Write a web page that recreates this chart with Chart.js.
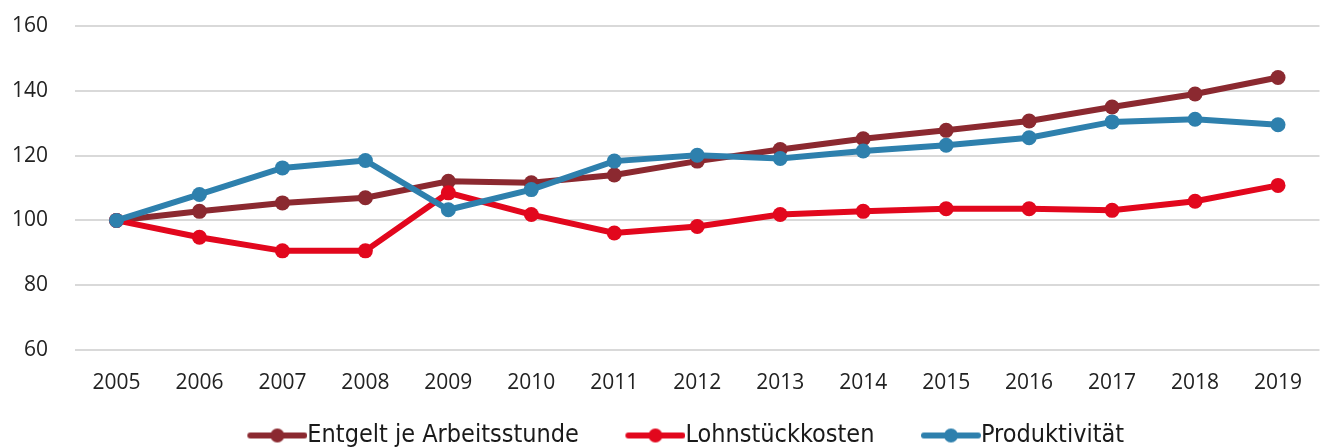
<!DOCTYPE html>
<html>
<head>
<meta charset="utf-8">
<script src="https://cdn.jsdelivr.net/npm/chart.js@4"></script>
<style>
  html, body { margin: 0; padding: 0; background: #fff; }
  #wrap { width: 1327px; height: 447px; }
</style>
</head>
<body>
<div id="wrap"><canvas id="chart"></canvas></div>
<script>
const years = ['2005', '2006', '2007', '2008', '2009', '2010', '2011', '2012', '2013', '2014', '2015', '2016', '2017', '2018', '2019'];
const entgelt = [100, 102.8, 105.4, 107.0, 112.1, 111.6, 114.0, 118.3, 121.9, 125.2, 127.8, 130.7, 135.0, 139.0, 144.1];
const lohnstueck = [100, 94.8, 90.6, 90.6, 108.5, 101.8, 96.1, 98.1, 101.8, 102.8, 103.6, 103.6, 103.1, 105.9, 110.8];
const produktivitaet = [100, 108.0, 116.2, 118.5, 103.3, 109.5, 118.3, 120.1, 119.1, 121.4, 123.2, 125.5, 130.4, 131.2, 129.5];
const seriesNames = ['Entgelt je Arbeitsstunde', 'Lohnstückkosten', 'Produktivität'];
const seriesColors = ['#8b2930', '#e2071d', '#2e80ad'];

const legendFontSize = 25;
const markerGap = 59;

// legend marker: line with a dot, plus transparent space on the left
function legendMarker(color) {
    const c = document.createElement('canvas');
    c.width = 60 + markerGap;
    c.height = 16;
    const g = c.getContext('2d');
    g.strokeStyle = color;
    g.lineWidth = 6;
    g.lineCap = 'round';
    g.beginPath();
    g.moveTo(markerGap + 3, 8);
    g.lineTo(markerGap + 57, 8);
    g.stroke();
    g.fillStyle = color;
    g.beginPath();
    g.arc(markerGap + 30, 8, 7, 0, Math.PI * 2);
    g.fill();
    return c;
}

function makeDataset(label, data, color, order) {
    return {
        label: label,
        data: data,
        borderColor: color,
        backgroundColor: color,
        borderWidth: 6,
        pointRadius: 7.5,
        pointHoverRadius: 7.5,
        pointBorderWidth: 0,
        tension: 0,
        order: order
    };
}

new Chart(document.getElementById('chart'), {
    type: 'line',
    data: {
        labels: years,
        datasets: [
            makeDataset(seriesNames[0], entgelt, seriesColors[0], 2),
            makeDataset(seriesNames[1], lohnstueck, seriesColors[1], 1),
            makeDataset(seriesNames[2], produktivitaet, seriesColors[2], 0)
        ]
    },
    options: {
        responsive: true,
        maintainAspectRatio: false,
        animation: false,
        layout: {
            padding: { top: 26, right: 2, bottom: -11, left: 0 }
        },
        plugins: {
            tooltip: { enabled: false },
            legend: {
                display: true,
                position: 'bottom',
                labels: {
                    usePointStyle: true,
                    pointStyleWidth: 60 + markerGap - legendFontSize,
                    padding: 0,
                    color: '#1a1a1a',
                    font: { family: "'Liberation Sans Narrow', 'DejaVu Sans Condensed', sans-serif", size: legendFontSize },
                    generateLabels: chart => chart.data.datasets.map((ds, i) => ({
                        text: ds.label,
                        pointStyle: legendMarker(ds.borderColor),
                        fillStyle: ds.borderColor,
                        strokeStyle: ds.borderColor,
                        lineWidth: 0,
                        hidden: false,
                        datasetIndex: i,
                        fontColor: '#1a1a1a'
                    }))
                }
            }
        },
        scales: {
            x: {
                offset: true,
                grid: { display: false, drawTicks: false },
                border: { display: false },
                ticks: {
                    padding: 20,
                    color: '#222',
                    font: { family: "'Open Sans', sans-serif", size: 21 }
                },
                afterFit: scale => { scale.height = 73; }
            },
            y: {
                min: 60,
                max: 160,
                grid: { color: '#d9d9d9', lineWidth: 2, drawTicks: false },
                border: { display: false },
                ticks: {
                    stepSize: 20,
                    padding: 27,
                    color: '#222',
                    font: { family: "'Open Sans', sans-serif", size: 21 }
                },
                afterFit: scale => {
                    scale.width = 75;
                    scale.paddingTop = 0;
                    scale.paddingBottom = 0;
                }
            }
        }
    }
});
</script>
</body>
</html>
